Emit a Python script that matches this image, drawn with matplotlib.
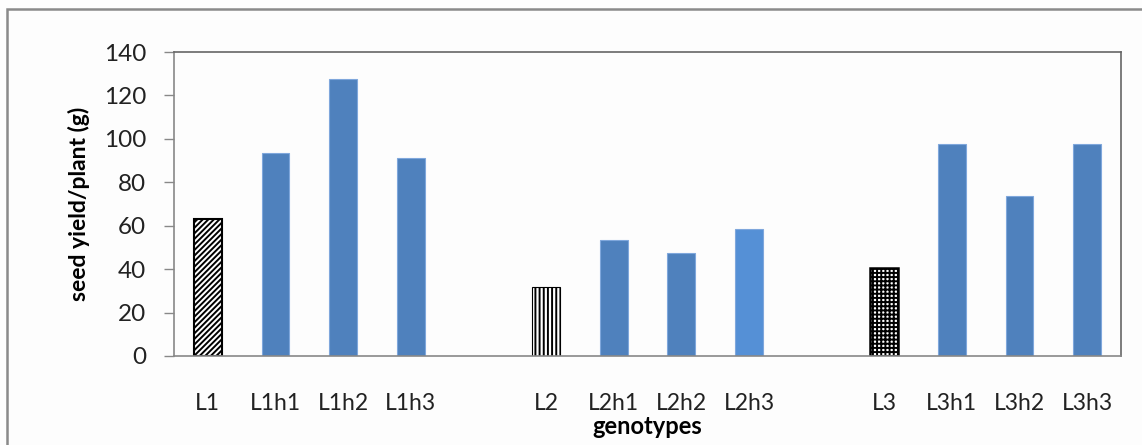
import numpy as np
import matplotlib
matplotlib.use("Agg")
import matplotlib.pyplot as plt
from matplotlib.patches import Rectangle

plt.rcParams['font.family'] = ['Lato', 'DejaVu Sans']
plt.rcParams['hatch.linewidth'] = 1.4

## data (blank slots separate the three groups)
genotypes = ["L1", "L1h1", "L1h2", "L1h3", "",
             "L2", "L2h1", "L2h2", "L2h3", "",
             "L3", "L3h1", "L3h2", "L3h3"]
seed_yield = [63, 93.5, 127.5, 91, 0,
              32, 53.5, 47.5, 58.5, 0,
              40.5, 97.5, 73.5, 97.5]

blue = "#4f81bd"
styles = {
    "L1": dict(facecolor="white", edgecolor="black", hatch="//////", linewidth=1.5),
    "L2": dict(facecolor="white", edgecolor="black", hatch="||||", linewidth=0.8),
    "L3": dict(facecolor="white", edgecolor="black", hatch="++++", linewidth=1.8),
    "L2h3": dict(facecolor="#5590d6", edgecolor="#7fa7dc", linewidth=0.8),
}

fig = plt.figure(figsize=(11.42, 4.45), dpi=100)
fig.patch.set_facecolor("#fdfdfd")
ax = fig.add_axes([0.1524, 0.2, 0.8292, 0.6831])
ax.set_facecolor("#fdfdfd")

x = np.arange(len(genotypes))
for xi, name, val in zip(x, genotypes, seed_yield):
    if not name:
        continue
    st = styles.get(name, dict(facecolor=blue, edgecolor="#7fa7dc", linewidth=0.8))
    ax.bar(xi, val, width=0.41, **st)

ax.set_xlim(-0.5, len(genotypes) - 0.5)
ax.set_ylim(0, 140)
ax.set_yticks(np.arange(0, 141, 20))
ax.set_xticks(x)
ax.set_xticklabels(genotypes)
ax.tick_params(axis="x", length=0, pad=27, labelsize=16.5, labelcolor="#222222")
ax.tick_params(axis="y", length=7, width=1, color="#888888", labelsize=17.5,
               pad=13, labelcolor="#222222")
for s in ax.spines.values():
    s.set_color("#888888")
    s.set_linewidth(1.2)
ax.spines["top"].set_color("#666666")
ax.spines["right"].set_color("#666666")

ax.set_ylabel("seed yield/plant (g)", fontsize=16.5, fontweight="bold", labelpad=10)
ax.set_xlabel("genotypes", fontsize=17, fontweight="bold", labelpad=0)

# outer chart border
fig.patches.append(Rectangle((0.006, -0.2), 1.2, 1.18, transform=fig.transFigure,
                             fill=False, edgecolor="#8a8a8a", linewidth=1.8))

fig.savefig("out.png", dpi=100, facecolor=fig.get_facecolor())
